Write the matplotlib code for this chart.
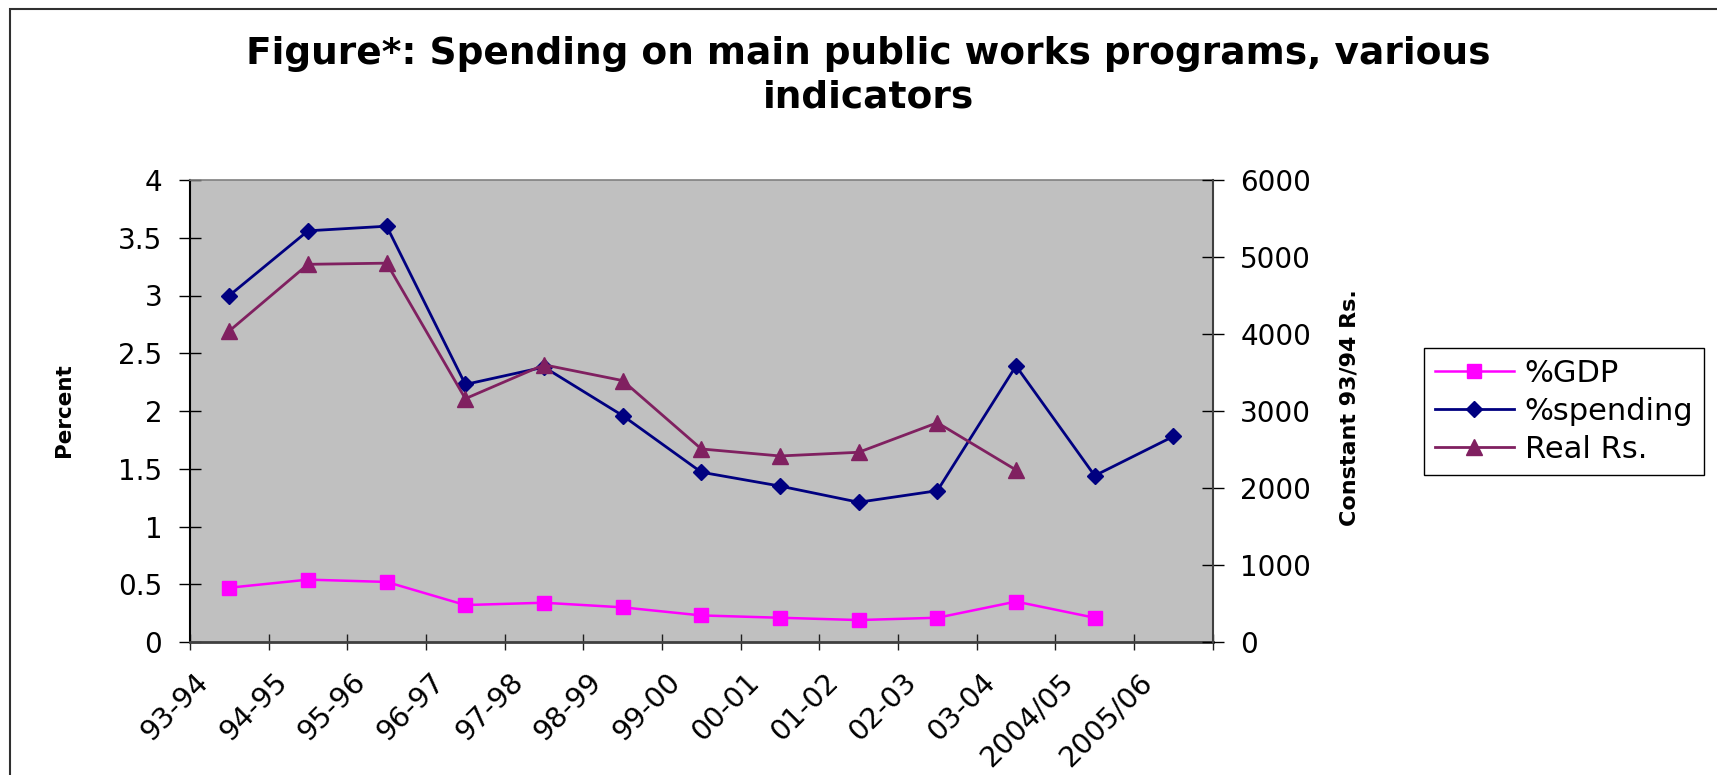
import matplotlib
matplotlib.use("Agg")
import matplotlib.pyplot as plt
import matplotlib.transforms as mtransforms
from matplotlib.patches import Rectangle
from matplotlib.lines import Line2D

categories = ["93-94", "94-95", "95-96", "96-97", "97-98", "98-99", "99-00",
              "00-01", "01-02", "02-03", "03-04", "2004/05", "2005/06"]
pct_gdp = [0.47, 0.54, 0.52, 0.32, 0.34, 0.30, 0.23, 0.21, 0.19, 0.21, 0.35, 0.21]
pct_spending = [3.00, 3.56, 3.60, 2.23, 2.38, 1.96, 1.47, 1.35, 1.21, 1.31, 2.39, 1.44, 1.78]
real_rs = [4040, 4905, 4920, 3160, 3600, 3395, 2507, 2416, 2464, 2848, 2234]

left_ticks = [0, 0.5, 1, 1.5, 2, 2.5, 3, 3.5, 4]
left_tick_labels = ["0", "0.5", "1", "1.5", "2", "2.5", "3", "3.5", "4"]
right_ticks = [0, 1000, 2000, 3000, 4000, 5000, 6000]
right_tick_labels = ["0", "1000", "2000", "3000", "4000", "5000", "6000"]

title = "Figure*: Spending on main public works programs, various\nindicators"
left_label = "Percent"
right_label = "Constant 93/94 Rs."
series_names = ["%GDP", "%spending", "Real Rs."]

W, H = 1717, 775
fig = plt.figure(figsize=(W / 100, H / 100), dpi=100)
plt.rcParams['font.family'] = ['DejaVu Sans']

# outer border (clipped at right/bottom)
fig.patches.append(Rectangle((10 / W, -0.2), 1.2, 1.2 - 9 / H,
                             transform=fig.transFigure, fill=False,
                             edgecolor="#303030", linewidth=1.5))

ax_l, ax_r = 190 / W, 1212.7 / W
ax_b, ax_t = 1 - 642 / H, 1 - 180 / H
ax = fig.add_axes([ax_l, ax_b, ax_r - ax_l, ax_t - ax_b])
ax.set_facecolor("#C0C0C0")
ax2 = ax.twinx()

n = len(categories)
x_all = list(range(n))
ax.set_xlim(-0.5, n - 0.5)
ax.set_ylim(0, 4)
ax2.set_ylim(0, 6000)

gdp_style = dict(color="#FF00FF", lw=1.8, marker="s", ms=10, mec="#FF00FF", mfc="#FF00FF")
sp_style = dict(color="#000080", lw=2.0, marker="D", ms=8.4, mec="#000080", mfc="#000080")
rr_style = dict(color="#802060", lw=2.0, marker="^", ms=12, mec="#802060", mfc="#802060")

ax.plot(x_all[:len(pct_gdp)], pct_gdp, zorder=3, **gdp_style)
ax.plot(x_all[:len(pct_spending)], pct_spending, zorder=4, **sp_style)
ax2.plot(x_all[:len(real_rs)], real_rs, zorder=5, **rr_style)

# spines
for s in ["top", "right", "left", "bottom"]:
    ax2.spines[s].set_visible(False)
ax2.spines["right"].set_visible(True)
ax2.spines["right"].set_color("#404040")
ax2.spines["right"].set_linewidth(1.5)
ax.spines["right"].set_visible(False)
ax.spines["top"].set_color("#808080")
ax.spines["top"].set_linewidth(1.2)
ax.spines["left"].set_color("#000000")
ax.spines["left"].set_linewidth(1.5)
ax.spines["bottom"].set_color("#404040")
ax.spines["bottom"].set_linewidth(2.0)

# y ticks
ax.set_yticks(left_ticks)
ax.set_yticklabels(left_tick_labels)
ax.tick_params(axis="y", direction="inout", length=15.8, width=1, color="#000000",
               labelsize=20, pad=12)
ax2.set_yticks(right_ticks)
ax2.set_yticklabels(right_tick_labels)
ax2.tick_params(axis="y", direction="inout", length=15.8, width=1, color="#000000",
                labelsize=20, pad=12)

# x ticks at category boundaries
ax.set_xticks([i - 0.5 for i in range(n + 1)])
ax.set_xticklabels([])
ax.tick_params(axis="x", direction="inout", length=12.2, width=1, color="#202020")

# rotated category labels
base = mtransforms.blended_transform_factory(ax.transData, ax.transAxes)
off = mtransforms.ScaledTranslation(-0.35, -0.26, fig.dpi_scale_trans)
for i, lab in enumerate(categories):
    ax.text(i, 0, lab, transform=base + off, rotation=45, rotation_mode="anchor",
            ha="right", va="top", fontsize=20.5)

# axis titles
fig.text(64 / W, 1 - 410 / H, left_label, rotation=90, ha="center", va="center",
         fontsize=15.5, fontweight="bold")
fig.text(1349 / W, 1 - 408 / H, right_label, rotation=90, ha="center", va="center",
         fontsize=16, fontweight="bold")

# title
fig.text(868 / W, 1 - 76 / H, title, ha="center", va="center", fontsize=27,
         fontweight="bold", linespacing=1.25)

# legend
handles = [Line2D([], [], **gdp_style), Line2D([], [], **sp_style), Line2D([], [], **rr_style)]
leg = fig.legend(handles, series_names, loc="upper left",
                 bbox_to_anchor=(1424 / W, 1 - 348 / H), bbox_transform=fig.transFigure,
                 borderaxespad=0, fontsize=22, frameon=True, fancybox=False,
                 edgecolor="#000000", framealpha=1, handlelength=2.6,
                 handletextpad=0.35, labelspacing=0.3, borderpad=0.35)
leg.get_frame().set_linewidth(1.0)

fig.savefig("out.png", dpi=100)
